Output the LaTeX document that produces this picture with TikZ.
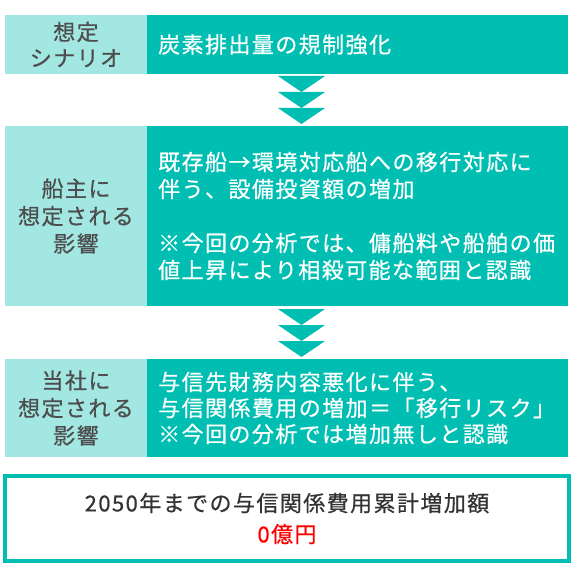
\documentclass[tikz,border=0pt]{standalone}
\usepackage{fontspec}
\setmainfont{Noto Sans CJK JP}[LetterSpace=6.5, FakeBold=0.6]
\definecolor{tealmain}{RGB}{0,191,178}
\definecolor{teallight}{RGB}{162,231,225}
\definecolor{graytxt}{RGB}{77,77,77}
\definecolor{darktxt}{RGB}{51,51,51}
\begin{document}
\begin{tikzpicture}[x=1pt,y=-1pt,
  base/.style={inner sep=0pt, outer sep=0pt, anchor=north west},
  headbox/.style={base, fill=teallight},
  bodybox/.style={base, fill=tealmain},
  headtext/.style={text=graytxt, align=center, inner sep=0pt, font=\fontsize{22}{27.5}\selectfont},
  bodytext/.style={text=white, align=left, anchor=west, inner sep=0pt, font=\fontsize{22}{27}\selectfont},
  chev/.style={fill=tealmain}]
\useasboundingbox (0,0) rectangle (588,580);
% row 1
\node[headbox, minimum width=142pt, minimum height=59pt] (h1) at (5,15) {};
\node[bodybox, minimum width=421pt, minimum height=59pt] (b1) at (147,15) {};
\node[headtext, font=\fontsize{22}{26}\selectfont] (ht1) at (h1.center) {想定\\シナリオ};
\node[bodytext] (bt1) at ([xshift=11pt]b1.west) {炭素排出量の規制強化};
% row 2
\node[headbox, minimum width=142pt, minimum height=180pt] (h2) at (5,126) {};
\node[bodybox, minimum width=421pt, minimum height=180pt] (b2) at (147,126) {};
\node[headtext] (ht2) at (h2.center) {船主に\\想定される\\影響};
\node[bodytext] (bt2) at ([xshift=11pt]b2.west) {既存船→環境対応船への移行対応に\\伴う、設備投資額の増加\\~\\※今回の分析では、傭船料や船舶の価\\値上昇により相殺可能な範囲と認識};
% row 3
\node[headbox, minimum width=142pt, minimum height=98pt] (h3) at (5,359) {};
\node[bodybox, minimum width=421pt, minimum height=98pt] (b3) at (147,359) {};
\node[headtext] (ht3) at (h3.center) {当社に\\想定される\\影響};
\node[bodytext, font=\fontsize{22}{26}\selectfont] (bt3) at ([xshift=11pt]b3.west) {与信先財務内容悪化に伴う、\\与信関係費用の増加＝「移行リスク」\\※今回の分析では増加無しと認識};
% chevrons
\foreach \y in {76,92,108} \fill[chev] (278,\y) -- (325,\y) -- (301.5,\y+16) -- cycle;
\foreach \y in {309,325,341} \fill[chev] (278,\y) -- (325,\y) -- (301.5,\y+16) -- cycle;
% result box
\node[base, draw=tealmain, fill=white, line width=4pt, minimum width=564pt, minimum height=85pt] (res) at (5,476) {};
\node[text=darktxt, align=center, inner sep=0pt, font=\fontsize{22}{31}\selectfont] (rt) at (res.center) {2050年までの与信関係費用累計増加額\\\textcolor{red}{0億円}};
\end{tikzpicture}
\end{document}
